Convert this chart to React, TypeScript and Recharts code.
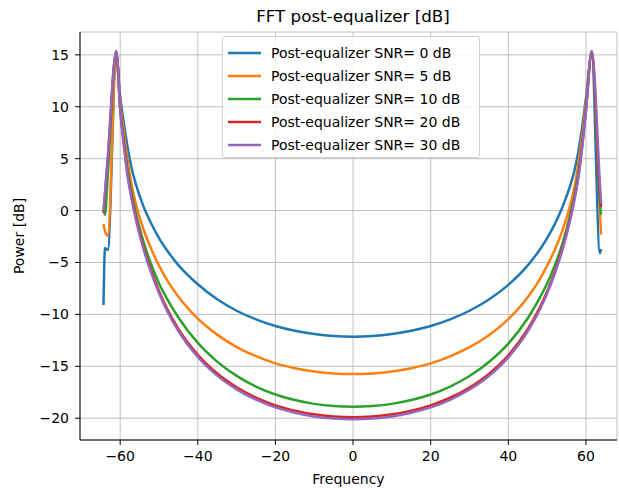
import {
  LineChart,
  Line,
  XAxis,
  YAxis,
  CartesianGrid,
  Legend,
} from "recharts";

const FONT = "'DejaVu Sans', sans-serif";

// frequency bins (x)
const freq = [
  -64.3, -63.9, -63.2, -61, -60, -59, -58, -57, -56, -54, -52, -50, -48, -45,
  -40, -35, -30, -25, -20, -15, -10, -5, 0, 5, 10, 15, 20, 25, 30, 35, 40, 45,
  48, 50, 52, 54, 56, 57, 58, 59, 60, 61.5, 63.6, 63.9,
];

// power [dB] per SNR
const snr0 = [
  -9.1, -3.6, -3.8, 15.0, 11.0, 8.3, 5.9, 4.0, 2.6, 0.4, -1.25, -2.65, -3.8,
  -5.25, -7.1, -8.55, -9.65, -10.48, -11.12, -11.58, -11.9, -12.09, -12.15,
  -12.09, -11.9, -11.58, -11.12, -10.48, -9.65, -8.57, -7.16, -5.28, -3.82,
  -2.65, -1.28, 0.39, 2.47, 3.8, 5.6, 8.0, 10.8, 15.0, -4.1, -3.7,
];
const snr5 = [
  -1.3, -2.0, -2.4, 15.2, 10.5, 7.4, 4.6, 2.4, 0.7, -1.8, -3.7, -5.3, -6.65,
  -8.3, -10.4, -11.95, -13.15, -14.03, -14.72, -15.18, -15.5, -15.69, -15.75,
  -15.69, -15.5, -15.18, -14.72, -14.04, -13.16, -12.0, -10.46, -8.35, -6.67,
  -5.31, -3.75, -1.86, 0.57, 2.2, 4.4, 7.2, 10.3, 15.2, -0.1, -2.3,
];
const snr10 = [
  0.0, -0.4, 3.4, 15.3, 10.0, 6.6, 3.7, 1.6, -0.2, -3.0, -5.2, -7.0, -8.45,
  -10.3, -12.75, -14.55, -15.92, -16.95, -17.72, -18.25, -18.62, -18.83, -18.9,
  -18.83, -18.62, -18.25, -17.72, -16.96, -15.94, -14.58, -12.81, -10.37,
  -8.49, -7.03, -5.26, -3.12, -0.31, 1.4, 3.5, 6.4, 9.8, 15.3, 0.5, -0.4,
];
const snr20 = [
  -0.2, 1.6, 4.9, 15.3, 9.8, 6.3, 3.3, 1.2, -0.6, -3.5, -5.8, -7.75, -9.4,
  -11.4, -13.9, -15.7, -17.02, -18.02, -18.76, -19.27, -19.63, -19.83, -19.9,
  -19.83, -19.63, -19.27, -18.76, -18.03, -17.04, -15.73, -13.94, -11.43,
  -9.42, -7.8, -5.86, -3.55, -0.67, 1.1, 3.2, 6.1, 9.7, 15.3, 1.5, 0.3,
];
const snr30 = [
  -0.1, 1.8, 5.1, 15.4, 9.7, 6.1, 3.1, 1.0, -0.8, -3.7, -6.0, -7.95, -9.6,
  -11.6, -14.1, -15.9, -17.22, -18.22, -18.96, -19.47, -19.83, -20.03, -20.1,
  -20.03, -19.83, -19.47, -18.96, -18.23, -17.24, -15.93, -14.14, -11.63,
  -9.62, -7.99, -6.04, -3.72, -0.82, 0.98, 3.08, 6.0, 9.6, 15.4, 2.6, 0.7,
];

const seriesNames = [
  "Post-equalizer SNR= 0 dB",
  "Post-equalizer SNR= 5 dB",
  "Post-equalizer SNR= 10 dB",
  "Post-equalizer SNR= 20 dB",
  "Post-equalizer SNR= 30 dB",
];
const colors = ["#1f77b4", "#ff7f0e", "#2ca02c", "#d62728", "#9467bd"];

const xTicks = [-60, -40, -20, 0, 20, 40, 60];
const yTicks = [-20, -15, -10, -5, 0, 5, 10, 15];

const data = freq.map((f, i) => ({
  f,
  s0: snr0[i],
  s5: snr5[i],
  s10: snr10[i],
  s20: snr20[i],
  s30: snr30[i],
}));
const keys = ["s0", "s5", "s10", "s20", "s30"];

const fmt = (v: number) => String(v).replace("-", "\u2212");

function LegendBox() {
  return (
    <div
      style={{
        width: 258,
        height: 122,
        boxSizing: "border-box",
        border: "1px solid #d0d0d0",
        borderRadius: 3,
        background: "rgba(255,255,255,0.8)",
        fontFamily: FONT,
        fontSize: 14,
        color: "#000",
        paddingTop: 4,
      }}
    >
      {seriesNames.map((name, i) => (
        <div
          key={name}
          style={{ display: "flex", alignItems: "center", height: 23 }}
        >
          <svg width={38} height={6} style={{ display: "block" }}>
            <line
              x1={5}
              x2={38}
              y1={3}
              y2={3}
              stroke={colors[i]}
              strokeWidth={2.5}
            />
          </svg>
          <span style={{ marginLeft: 10, whiteSpace: "nowrap" }}>{name}</span>
        </div>
      ))}
    </div>
  );
}

export default function App() {
  return (
    <div
      style={{
        position: "absolute",
        left: 0,
        top: 0,
        width: 619,
        height: 489,
        background: "#fff",
        fontFamily: FONT,
      }}
    >
      <div
        style={{
          position: "absolute",
          left: 0,
          width: 706,
          top: 6,
          textAlign: "center",
          fontSize: 16.7,
          color: "#000",
        }}
      >
        FFT post-equalizer [dB]
      </div>
      <LineChart
        width={619}
        height={489}
        data={data}
        margin={{ top: 32, right: 2, left: 0, bottom: 0 }}
      >
        <CartesianGrid stroke="#b0b0b0" strokeWidth={0.8} />
        <XAxis
          dataKey="f"
          type="number"
          domain={[-70.35, 68]}
          ticks={xTicks}
          allowDataOverflow
          height={49}
          tickFormatter={fmt}
          tickSize={5}
          tickMargin={6}
          tickLine={{ stroke: "#000" }}
          axisLine={{ stroke: "#000" }}
          tick={{ fill: "#000", fontSize: 14, fontFamily: FONT }}
          label={{
            value: "Frequency",
            position: "insideBottom",
            offset: 5,
            fill: "#000",
            fontSize: 14,
            fontFamily: FONT,
          }}
        />
        <XAxis
          xAxisId="top"
          orientation="top"
          dataKey="f"
          type="number"
          domain={[-70.35, 68]}
          height={0}
          tick={false}
          tickLine={false}
          axisLine={{ stroke: "#000" }}
        />
        <YAxis
          type="number"
          domain={[-22.1, 17.2]}
          ticks={yTicks}
          allowDataOverflow
          width={80}
          tickFormatter={fmt}
          tickSize={5}
          tickMargin={6}
          tickLine={{ stroke: "#000" }}
          axisLine={{ stroke: "#000" }}
          tick={{ fill: "#000", fontSize: 14, fontFamily: FONT }}
          label={{
            value: "Power [dB]",
            angle: -90,
            position: "insideLeft",
            offset: 19,
            fill: "#000",
            fontSize: 14,
            fontFamily: FONT,
            style: { textAnchor: "middle" },
          }}
        />
        <Legend
          layout="horizontal"
          verticalAlign="middle"
          content={() => <LegendBox />}
          wrapperStyle={{ position: "absolute", left: 222, top: 36, width: 258 }}
        />
        {keys.map((k, i) => (
          <Line
            key={k}
            dataKey={k}
            name={seriesNames[i]}
            type="monotone"
            stroke={colors[i]}
            strokeWidth={2.5}
            dot={false}
            isAnimationActive={false}
          />
        ))}
      </LineChart>
    </div>
  );
}
